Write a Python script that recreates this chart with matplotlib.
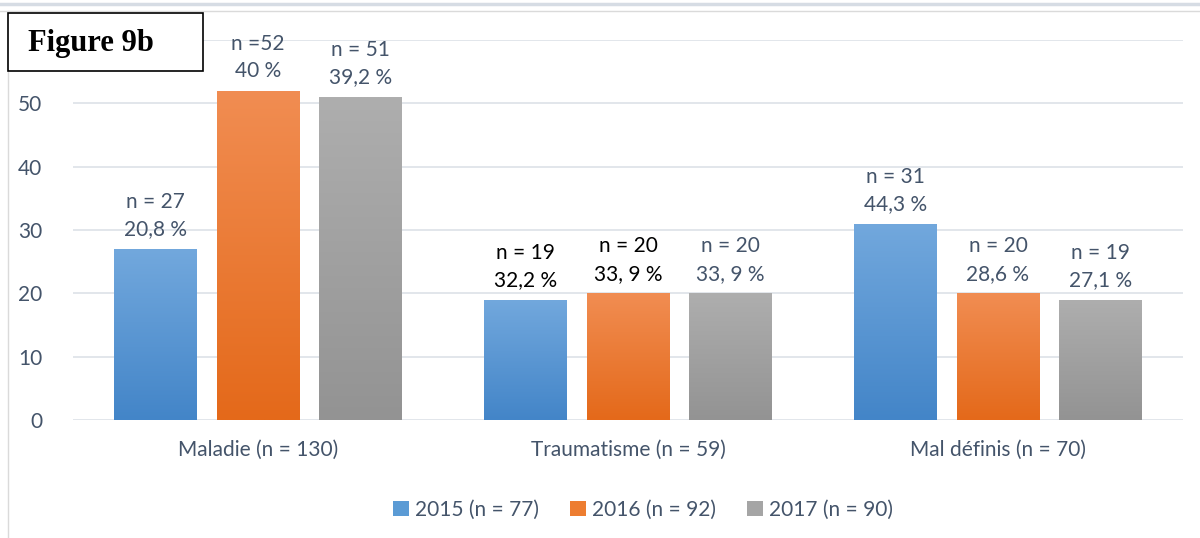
import numpy as np
import matplotlib
matplotlib.use("Agg")
import matplotlib.pyplot as plt
from matplotlib.colors import LinearSegmentedColormap
from matplotlib.patches import Rectangle, Patch
from matplotlib.lines import Line2D

# data
categories = ["Maladie (n = 130)", "Traumatisme (n = 59)", "Mal définis (n = 70)"]
series = ["2015 (n = 77)", "2016 (n = 92)", "2017 (n = 90)"]
v2015 = [27, 19, 31]
v2016 = [52, 20, 20]
v2017 = [51, 20, 19]
lab2015 = ["n = 27\n20,8 %", "n = 19\n32,2 %", "n = 31\n44,3 %"]
lab2016 = ["n =52\n40 %", "n = 20\n33, 9 %", "n = 20\n28,6 %"]
lab2017 = ["n = 51\n39,2 %", "n = 20\n33, 9 %", "n = 19\n27,1 %"]
yticks = [0, 10, 20, 30, 40, 50, 60]
ylabels = ["0", "10", "20", "30", "40", "50", ""]

txt = "#44546A"
lab_colors = [[txt, "black", txt], [txt, "black", txt], [txt, txt, txt]]
grads = [("#4385C8", "#72A8DD"), ("#E4691A", "#F18D52"), ("#939393", "#AEAEAE")]
mid = ["#5B9BD5", "#ED7D31", "#A5A5A5"]

plt.rcParams["font.family"] = ["Lato", "DejaVu Sans"]
fs = 15

fig = plt.figure(figsize=(12, 5.38), dpi=100)
ax = fig.add_axes([73 / 1200, 1 - 420 / 538, 1110 / 1200, 380 / 538])

x = np.arange(len(categories))
width = 0.224
step = 0.276
allvals = [v2015, v2016, v2017]
alllabs = [lab2015, lab2016, lab2017]

grad = np.linspace(0, 1, 256).reshape(-1, 1)
for i, (vals, labs) in enumerate(zip(allvals, alllabs)):
    cmap = LinearSegmentedColormap.from_list("g%d" % i, grads[i])
    bars = ax.bar(x + (i - 1) * step, vals, width, color=mid[i], zorder=2)
    for j, b in enumerate(bars):
        x0, h = b.get_x(), b.get_height()
        im = ax.imshow(grad, extent=[x0, x0 + width, 0, h], origin="lower",
                       aspect="auto", cmap=cmap, zorder=3)
        im.set_clip_path(b)
        ax.annotate(labs[j], (x0 + width / 2, h), xytext=(0, 7),
                    textcoords="offset points", ha="center", va="bottom",
                    fontsize=fs, color=lab_colors[i][j], linespacing=1.45)

ax.set_xlim(-0.5, 2.5)
ax.set_ylim(0, 60)
ax.set_yticks(yticks)
ax.set_yticklabels(ylabels)
ax.set_xticks(x)
ax.set_xticklabels(categories)
ax.tick_params(length=0, labelsize=fs, colors=txt)
ax.tick_params(axis="y", pad=22)
ax.tick_params(axis="x", pad=14)
ax.grid(axis="y", color="#DDE2E8", lw=1.2, zorder=0)
for s in ax.spines.values():
    s.set_visible(False)

handles = [Patch(facecolor=mid[i], edgecolor="none") for i in range(3)]
fig.legend(handles, series, loc="center", bbox_to_anchor=(643 / 1200, 1 - 510 / 538),
           ncol=3, frameon=False, fontsize=fs, labelcolor=txt,
           handlelength=0.75, handleheight=0.75, handletextpad=0.3, columnspacing=1.5)

# outer frame
fig.add_artist(Line2D([0, 1], [1 - 4 / 538] * 2, color="#D6DCE4", lw=2.5))
fig.add_artist(Line2D([0, 1], [1 - 11 / 538] * 2, color="#DADADA", lw=1))
fig.add_artist(Line2D([8 / 1200] * 2, [0, 1 - 11 / 538], color="#DADADA", lw=1))

# title box
fig.add_artist(Rectangle((8 / 1200, 1 - 71 / 538), 195 / 1200, 58 / 538,
                         facecolor="white", edgecolor="black", lw=1.2, zorder=10))
fig.text(28 / 1200, 1 - 44 / 538, "Figure 9b", fontsize=22, fontweight="bold",
         family="Liberation Serif", va="center", ha="left", zorder=11)

fig.savefig("out.png", dpi=100)
